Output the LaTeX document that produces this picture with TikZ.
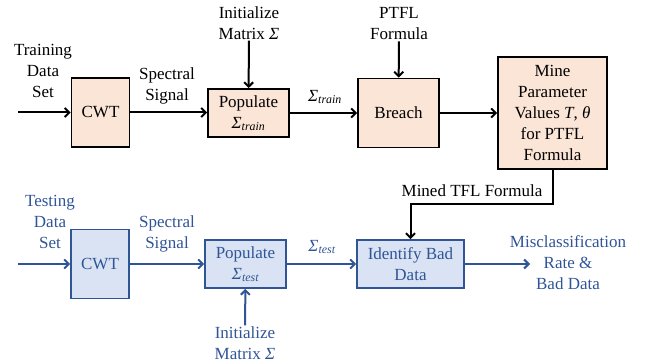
\documentclass[tikz,border=0pt]{standalone}
\usepackage{amsmath}
\usepackage{fontspec}
\setmainfont{Liberation Serif}
\usetikzlibrary{arrows.meta}
\definecolor{trainfill}{HTML}{FBE5D6}
\definecolor{testfill}{HTML}{DAE3F3}
\definecolor{testblue}{HTML}{2F5597}
\newcommand{\sigmat}[1]{$\text{\itshape Σ}_{\text{\itshape #1}}$}
\begin{document}
\begin{tikzpicture}[
    x=1pt, y=-1pt,
    font=\fontsize{17}{21}\selectfont,
    box/.style={rectangle, line width=1.8pt, align=center, inner sep=2pt},
    trainbox/.style={box, fill=trainfill, draw=black},
    testbox/.style={box, fill=testfill, draw=testblue, text=testblue},
    lbl/.style={align=center, inner sep=1pt},
    testlbl/.style={lbl, text=testblue},
    arrow/.style={-{Straight Barb[length=4.5pt,width=9pt]}, line width=2pt},
    testarrow/.style={arrow, draw=testblue},
]
\useasboundingbox (0,0) rectangle (651,363);

% Training
\coordinate (trainin) at (18,112.5);
\node[lbl] (traindata) at (43,71) {Training\\Data\\Set};
\node[trainbox, minimum width=58pt, minimum height=69pt] (cwttrain) at (100.5,112.5) {CWT};
\node[lbl] (specttrain) at (167,86) {Spectral\\Signal};
\node[trainbox, minimum width=81pt, minimum height=48pt] (poptrain) at (248.5,113) {Populate\\\sigmat{train}};
\node[lbl] (inittrain) at (249,23) {Initialize\\Matrix \textit{Σ}};
\node[lbl] (sigtrain) at (325,97) {\sigmat{train}};
\node[trainbox, minimum width=81pt, minimum height=69pt] (breach) at (398.5,113) {Breach};
\node[lbl] (ptfl) at (399,24) {PTFL\\Formula};
\node[trainbox, minimum width=109pt, minimum height=112pt] (mine) at (552.5,113) {Mine\\Parameter\\Values \textit{T}, \textit{θ}\\for PTFL\\Formula};

\draw[arrow] (trainin) -- (cwttrain);
\draw[arrow] (cwttrain.east) -- (cwttrain.east -| poptrain.west);
\draw[arrow] (inittrain) -- (poptrain);
\draw[arrow] (poptrain.east) -- (poptrain.east -| breach.west);
\draw[arrow] (ptfl) -- (breach);
\draw[arrow] (breach.east) -- (breach.east -| mine.west);

% Testing
\coordinate (testin) at (18,264);
\node[testlbl] (testdata) at (50,222) {Testing\\Data\\Set};
\node[testbox, minimum width=58pt, minimum height=69pt] (cwttest) at (100,264) {CWT};
\node[testlbl] (specttest) at (167,234) {Spectral\\Signal};
\node[testbox, minimum width=81pt, minimum height=48pt] (poptest) at (245.5,264) {Populate\\\sigmat{test}};
\node[testlbl] (inittest) at (245,343) {Initialize\\Matrix \textit{Σ}};
\node[testlbl] (sigtest) at (322,247) {\sigmat{test}};
\node[testbox, minimum width=107pt, minimum height=48pt] (ident) at (410.5,264) {Identify Bad\\Data};
\coordinate (testout) at (530,264);
\node[testlbl] (result) at (568,263) {Misclassification\\Rate \&\\Bad Data};

\draw[testarrow] (testin) -- (cwttest);
\draw[testarrow] (cwttest.east) -- (cwttest.east -| poptest.west);
\draw[testarrow] (inittest) -- (poptest);
\draw[testarrow] (poptest.east) -- (poptest.east -| ident.west);
\draw[testarrow] (ident) -- (testout);

% Mined formula
\coordinate (bend) at (552.5,204);
\node[lbl] (mined) at (472,191) {Mined TFL Formula};
\draw[arrow] (mine.south) -- (bend) -| (ident.north);

\end{tikzpicture}
\end{document}
